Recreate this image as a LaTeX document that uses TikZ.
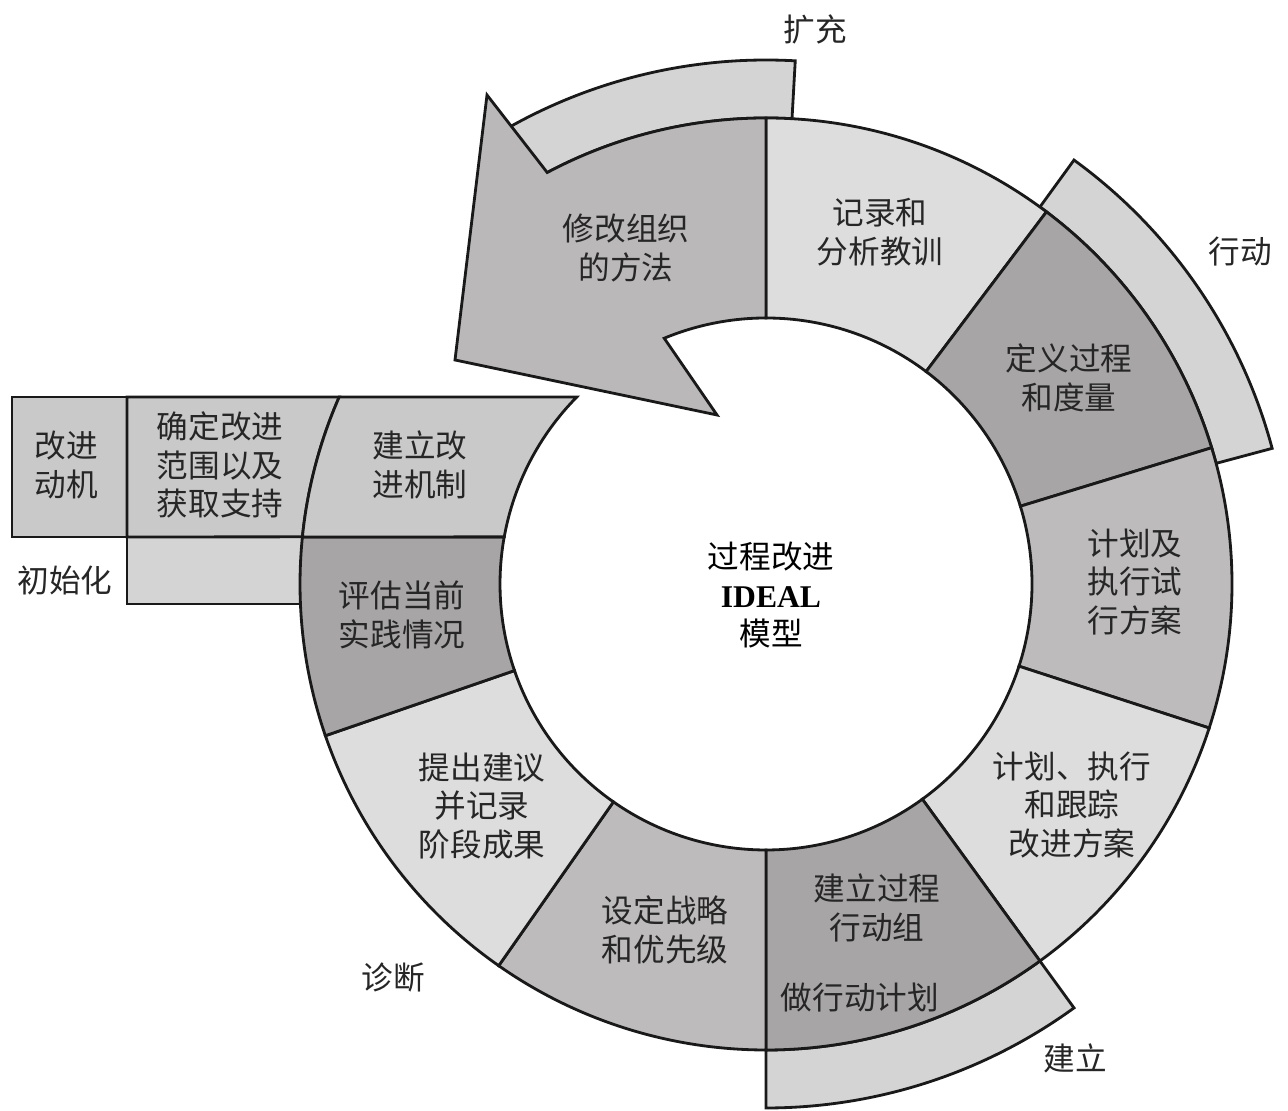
\documentclass[tikz,border=0pt]{standalone}
\usepackage{fontspec}
\setmainfont{Liberation Serif}
\newfontfamily\cjk{Noto Sans CJK SC}
\usepackage{xcolor}
\definecolor{segLight} {HTML}{DDDDDD}
\definecolor{segMid}   {HTML}{BDBBBC}
\definecolor{segDark}  {HTML}{A7A5A6}
\definecolor{arrowFill}{HTML}{BAB8B9}
\definecolor{initFill} {HTML}{C9C9C9}
\definecolor{bandFill} {HTML}{D4D4D4}
\usetikzlibrary{calc}
\tikzset{
    seg/.style={draw=black!90, line width=1.6pt, line join=miter},
    band/.style={seg, fill=bandFill},
    lbl/.style={font=\cjk\fontsize{18}{22}\selectfont, align=center,
                text=black!85, inner sep=0pt},
    phase/.style={lbl},
}

\begin{document}
\begin{tikzpicture}[x=0.02cm, y=0.02cm]
    \useasboundingbox (0,0) rectangle (1288,1111);
    \coordinate (C) at (766,527);

    % outer phase bands
    \draw[band] ($(C)+(86.8:466)$) arc[start angle=86.8, end angle=121, radius=466]
        -- ($(C)+(121:524)$) arc[start angle=121, end angle=86.8, radius=524] -- cycle;
    \draw[band] ($(C)+(15:466)$) arc[start angle=15, end angle=54, radius=466]
        -- ($(C)+(54:524)$) arc[start angle=54, end angle=15, radius=524] -- cycle;
    \draw[band] ($(C)+(270:466)$) arc[start angle=270, end angle=306, radius=466]
        -- ($(C)+(306:524)$) arc[start angle=306, end angle=270, radius=524] -- cycle;
    \draw[band] (127,507) rectangle (320,574);

    % ring
    \draw[seg, fill=segLight] ($(C)+(53:466)$) arc[start angle=53, end angle=90, radius=466]
        -- ($(C)+(90:266)$) arc[start angle=90, end angle=53, radius=266] -- cycle;
    \draw[seg, fill=segDark] ($(C)+(17:466)$) arc[start angle=17, end angle=53, radius=466]
        -- ($(C)+(53:266)$) arc[start angle=53, end angle=17, radius=266] -- cycle;
    \draw[seg, fill=segMid] ($(C)+(-18:466)$) arc[start angle=-18, end angle=17, radius=466]
        -- ($(C)+(17:266)$) arc[start angle=17, end angle=-18, radius=266] -- cycle;
    \draw[seg, fill=segLight] ($(C)+(306:466)$) arc[start angle=306, end angle=342, radius=466]
        -- ($(C)+(342:266)$) arc[start angle=342, end angle=306, radius=266] -- cycle;
    \draw[seg, fill=segDark] ($(C)+(270:466)$) arc[start angle=270, end angle=306, radius=466]
        -- ($(C)+(306:266)$) arc[start angle=306, end angle=270, radius=266] -- cycle;
    \draw[seg, fill=segMid] ($(C)+(235:466)$) arc[start angle=235, end angle=270, radius=466]
        -- ($(C)+(270:266)$) arc[start angle=270, end angle=235, radius=266] -- cycle;
    \draw[seg, fill=segLight] ($(C)+(199:466)$) arc[start angle=199, end angle=235, radius=466]
        -- ($(C)+(235:266)$) arc[start angle=235, end angle=199, radius=266] -- cycle;
    \draw[seg, fill=segDark] (302.4,574) -- (504.2,574)
        arc[start angle=169.82, end angle=199, radius=266]
        -- ($(C)+(199:466)$) arc[start angle=199, end angle=174.2, radius=466] -- cycle;

    % initiating block
    \draw[seg, fill=initFill] (12,574) rectangle (127,714);
    \draw[seg, fill=initFill] (127,574) -- (127,714) -- (339.2,714)
        arc[start angle=156.35, end angle=174.2, radius=466] -- cycle;
    \draw[seg, fill=initFill] (339.2,714) -- (576.8,714)
        arc[start angle=135.36, end angle=169.82, radius=266] -- (302.4,574)
        arc[start angle=174.2, end angle=156.35, radius=466] -- cycle;

    % leveraging arrow
    \draw[seg, fill=arrowFill] ($(C)+(90:466)$) arc[start angle=90, end angle=118, radius=466]
        -- (487,1016) -- (455,751) -- (717,696) -- ($(C)+(112.5:266)$)
        arc[start angle=112.5, end angle=90, radius=266] -- cycle;

    % labels
    \node[lbl] (sRecord) at (880,879) {记录和\\分析教训};
    \node[lbl] (sDefine) at (1069,733) {定义过程\\和度量};
    \node[lbl] (sPilot) at (1135,529) {计划及\\执行试\\行方案};
    \node[lbl] (sTrack) at (1072,306) {计划、执行\\和跟踪\\改进方案};
    \node[lbl] (sTeam) at (877,203) {建立过程\\行动组};
    \node[lbl] (sAction) at (860,113) {做行动计划};
    \node[lbl] (sStrategy) at (665,181) {设定战略\\和优先级};
    \node[lbl] (sRecommend) at (482,305) {提出建议\\并记录\\阶段成果};
    \node[lbl] (sAssess) at (402,496) {评估当前\\实践情况};
    \node[lbl] (sInfra) at (420,646) {建立改\\进机制};
    \node[lbl] (sScope) at (220,646) {确定改进\\范围以及\\获取支持};
    \node[lbl] (sStimulus) at (66,646) {改进\\动机};
    \node[lbl] (sRevise) at (626,863) {修改组织\\的方法};

    \node[phase] (pLeverage) at (815,1081) {扩充};
    \node[phase] (pAct) at (1240,859) {行动};
    \node[phase] (pEstablish) at (1075,53) {建立};
    \node[phase] (pDiagnose) at (393,133) {诊断};
    \node[phase] (pInit) at (65,531) {初始化};

    \node[lbl, text=black] (title) at (771,516)
        {过程改进\\{\rmfamily\bfseries IDEAL}\\模型};
\end{tikzpicture}
\end{document}
